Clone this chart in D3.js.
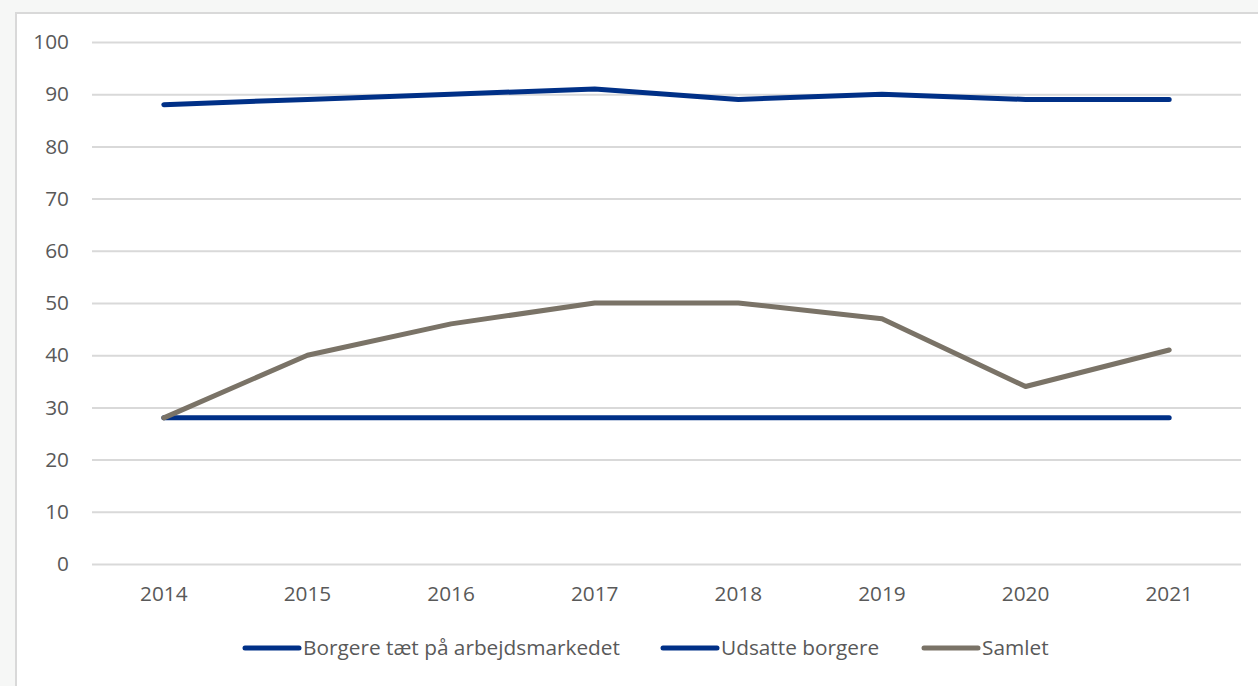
<!DOCTYPE html>
<html><head><meta charset="utf-8">
<script src="https://cdn.jsdelivr.net/npm/d3@7"></script>
<style>html,body{margin:0;padding:0;background:#f6f7f6;}svg{display:block;}</style>
</head><body>
<svg id="c" width="1258" height="686"></svg>
<script>
const years = ["2014","2015","2016","2017","2018","2019","2020","2021"];
const borgereTaet = [88, 89, 90, 91, 89, 90, 89, 89];
const udsatte = [28, 28, 28, 28, 28, 28, 28, 28];
const samlet = [28, 40, 46, 50, 50, 47, 34, 41];
const yTicks = [0,10,20,30,40,50,60,70,80,90,100];
const seriesNames = ["Borgere tæt på arbejdsmarkedet", "Udsatte borgere", "Samlet"];
const seriesColors = ["#003087", "#003087", "#7a7367"];

const svg = d3.select("#c");
svg.append("rect").attr("x",16).attr("y",13).attr("width",1260).attr("height",690)
  .attr("fill","#fff").attr("stroke","#d9d9d9").attr("stroke-width",2);

const x = d3.scaleBand().domain(years).range([92,1241]);
const y = d3.scaleLinear().domain([0,100]).range([564,42]);
const font = "'Open Sans', 'Noto Sans', sans-serif";
const fs = "20.8px";

const gy = svg.append("g").attr("transform","translate(92,0)")
  .call(d3.axisLeft(y).tickValues(yTicks).tickSize(-1149).tickPadding(23));
gy.select(".domain").remove();
gy.selectAll(".tick line").attr("stroke","#d9d9d9").attr("stroke-width",2);
gy.selectAll(".tick text").attr("fill","#595959").style("font-family",font).style("font-size",fs);

const gx = svg.append("g").attr("transform","translate(0,564)")
  .call(d3.axisBottom(x).tickSize(0).tickPadding(22));
gx.select(".domain").remove();
gx.selectAll(".tick text").attr("fill","#595959").style("font-family",font).style("font-size",fs);

const line = d3.line().x((d,i)=>x(years[i])+x.bandwidth()/2).y(d=>y(d));
const data = [borgereTaet, udsatte, samlet];
[1,0,2].forEach(k=>{
  svg.append("path").datum(data[k]).attr("d",line).attr("fill","none")
    .attr("stroke",seriesColors[k]).attr("stroke-width",5)
    .attr("stroke-linecap","round").attr("stroke-linejoin","round");
});

const legX = [245, 663, 924];
const lg = svg.append("g");
seriesNames.forEach((n,i)=>{
  lg.append("line").attr("x1",legX[i]).attr("x2",legX[i]+54).attr("y1",648).attr("y2",648)
    .attr("stroke",seriesColors[i]).attr("stroke-width",5).attr("stroke-linecap","round");
  lg.append("text").attr("x",legX[i]+58).attr("y",655).text(n)
    .attr("fill","#595959").style("font-family",font).style("font-size",fs);
});
</script>
</body></html>
